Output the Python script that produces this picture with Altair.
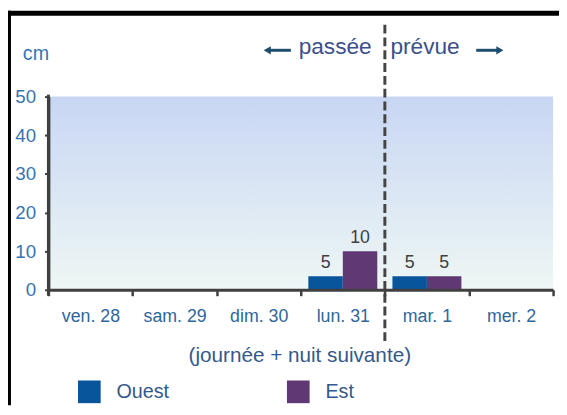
import altair as alt
import pandas as pd

# ---- data ----
days = ["ven. 28", "sam. 29", "dim. 30", "lun. 31", "mar. 1", "mer. 2"]
series = ["Ouest", "Est"]
ouest_cm = [0, 0, 0, 3.5, 3.5, 0]
est_cm = [0, 0, 0, 10, 3.5, 0]
ouest_labels = ["", "", "", "5", "5", ""]
est_labels = ["", "", "", "10", "5", ""]
series_colors = ["#08559c", "#5f3874"]
forecast_start = "mar. 1"
y_ticks = [0, 10, 20, 30, 40, 50]

F = "Liberation Sans"
BLUE = "#2f669c"
TXT = "#34598a"
AX = "#404040"

rows = []
for i, d in enumerate(days):
    rows.append({"day": d, "series": "Ouest", "value": ouest_cm[i], "label": ouest_labels[i]})
    rows.append({"day": d, "series": "Est", "value": est_cm[i], "label": est_labels[i]})
df = pd.DataFrame(rows)
one = pd.DataFrame({"k": [0]})

W, H = 512, 196

x_scale = alt.Scale(domain=days, paddingInner=0, paddingOuter=0)
x_axis = alt.Axis(title=None, labelAngle=0, tickBand="extent", tickSize=6,
                  tickWidth=2.5, tickColor=AX, domainColor=AX, domainWidth=3,
                  labelFont=F, labelFontSize=18, labelColor=BLUE,
                  labelPadding=12, grid=False, labelOverlap=False, zindex=1)
x_enc = alt.X("day:N", sort=days, scale=x_scale, axis=x_axis)
xo_enc = alt.XOffset("series:N", sort=series,
                     scale=alt.Scale(domain=series, paddingInner=0, paddingOuter=0.22))
y_enc = alt.Y("value:Q", scale=alt.Scale(domain=[0, 50], nice=False),
              axis=alt.Axis(values=y_ticks, title=None, labelFont=F, labelFontSize=19,
                            labelColor="#3574b0", labelPadding=9, tickSize=4,
                            tickColor=AX, tickWidth=2, domainColor=AX, domainWidth=3,
                            grid=False, labelOverlap=False, labelFlush=False, zindex=1))

bg = alt.Chart(one).mark_rect(
    color=alt.Gradient(gradient="linear",
                       stops=[alt.GradientStop(color="#c8d6f4", offset=0),
                              alt.GradientStop(color="#eef7f4", offset=1)],
                       x1=0, x2=0, y1=0, y2=1)
).encode(x=alt.value(0), x2=alt.value(W), y=alt.value(0), y2=alt.value(H))

border_left = alt.Chart(one).mark_rect(color="black").encode(
    x=alt.value(-41), x2=alt.value(-38), y=alt.value(-87), y2=alt.value(313))
border_top = alt.Chart(one).mark_rect(color="black").encode(
    x=alt.value(-41), x2=alt.value(518), y=alt.value(-87), y2=alt.value(-82))

bars = alt.Chart(df).mark_bar().encode(
    x=x_enc, xOffset=xo_enc, y=y_enc,
    color=alt.Color("series:N", sort=series,
                    scale=alt.Scale(domain=series, range=series_colors),
                    legend=alt.Legend(orient="none", legendX=30, legendY=288,
                                      direction="horizontal", title=None,
                                      symbolType="square", symbolSize=529,
                                      symbolStrokeWidth=0, symbolOpacity=1,
                                      labelFont=F, labelFontSize=20, labelColor=TXT,
                                      labelOffset=16, columnPadding=119, padding=0))
)

labels = alt.Chart(df).mark_text(baseline="alphabetic", dy=-8, font=F, fontSize=18,
                                 color=AX).encode(
    x=x_enc, xOffset=xo_enc, y=y_enc, text="label:N")

divider = alt.Chart(pd.DataFrame({"day": [forecast_start]})).mark_rule(
    strokeDash=[9, 4], strokeWidth=3, color="#444444").encode(
    x=alt.X("day:N", sort=days, bandPosition=0, scale=x_scale, axis=x_axis),
    y=alt.value(-73), y2=alt.value(252))

y_line = alt.Chart(one).mark_rule(color=AX, strokeWidth=3).encode(
    x=alt.value(0), y=alt.value(-2), y2=alt.value(202))

cm = alt.Chart(one).mark_text(text="cm", align="left", baseline="alphabetic",
                              font=F, fontSize=20, color="#3575b0").encode(
    x=alt.value(-26), y=alt.value(-37))
passee = alt.Chart(one).mark_text(text="passée", align="right", baseline="alphabetic",
                                  font=F, fontSize=23, color="#3b508c").encode(
    x=alt.value(328), y=alt.value(-43))
prevue = alt.Chart(one).mark_text(text="prévue", align="left", baseline="alphabetic",
                                  font=F, fontSize=23, color="#3b508c").encode(
    x=alt.value(347), y=alt.value(-43))
subtitle = alt.Chart(one).mark_text(text="(journée + nuit suivante)", align="center",
                                    baseline="middle", font=F, fontSize=21,
                                    color=TXT).encode(
    x=alt.value(255), y=alt.value(263))

ARR = "#1f4d6e"
arrow_l_line = alt.Chart(one).mark_rule(color=ARR, strokeWidth=3).encode(
    x=alt.value(224), x2=alt.value(246), y=alt.value(-47))
arrow_l_head = alt.Chart(one).mark_point(shape="triangle-left", filled=True, size=70,
                                         color=ARR, opacity=1).encode(
    x=alt.value(222), y=alt.value(-47))
arrow_r_line = alt.Chart(one).mark_rule(color=ARR, strokeWidth=3).encode(
    x=alt.value(434), x2=alt.value(456), y=alt.value(-47))
arrow_r_head = alt.Chart(one).mark_point(shape="triangle-right", filled=True, size=70,
                                         color=ARR, opacity=1).encode(
    x=alt.value(458), y=alt.value(-47))

chart = alt.layer(
    bg, border_left, border_top, bars, labels, divider, y_line, cm, passee, prevue,
    subtitle, arrow_l_line, arrow_l_head, arrow_r_line, arrow_r_head
).properties(
    width=W, height=H,
    autosize=alt.AutoSizeParams(type="none"),
    padding={"left": 41, "top": 87, "right": 6, "bottom": 117}
).configure_view(stroke=None)

chart.save("out.html", embed_options={"renderer": "svg", "actions": False})
